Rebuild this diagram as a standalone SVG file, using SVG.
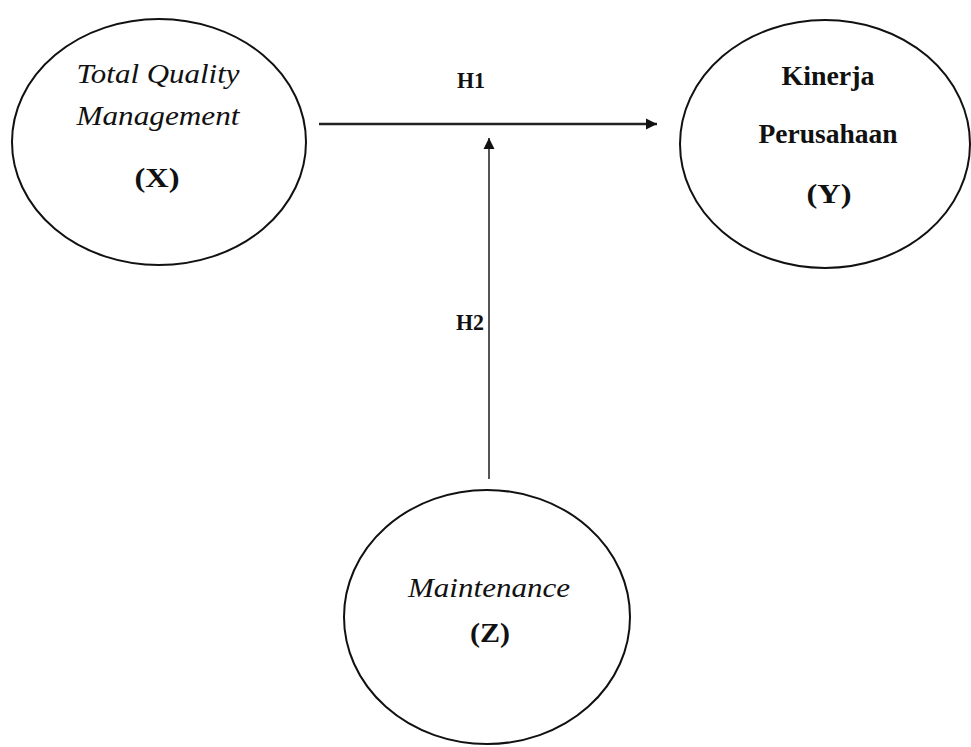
<svg xmlns="http://www.w3.org/2000/svg" width="971" height="747" viewBox="0 0 971 747">
<style>
.node ellipse{fill:#fff;stroke:#111;stroke-width:2}
text{font-family:"Liberation Serif","Times New Roman",Times,serif;fill:#111;text-anchor:middle}
.it{font-style:italic;font-size:28px}
.bd{font-weight:bold;font-size:27px}
.lbl{font-weight:bold;font-size:23px}
.conn line{stroke:#222;stroke-width:2.5}
</style>
<defs>
<marker id="ah" markerWidth="12" markerHeight="12" refX="11" refY="6" orient="auto" markerUnits="userSpaceOnUse">
<path d="M0,0.5 L11,6 L0,11.5 Z" fill="#111"/>
</marker>
</defs>
<rect width="971" height="747" fill="#fff"/>
<g id="nodeX" class="node">
<ellipse cx="159" cy="142" rx="147" ry="123"/>
<text class="it" x="158" y="83" textLength="163" lengthAdjust="spacingAndGlyphs">Total Quality</text>
<text class="it" x="158" y="125" textLength="163" lengthAdjust="spacingAndGlyphs">Management</text>
<text class="bd" x="157" y="187" textLength="45" lengthAdjust="spacingAndGlyphs">(X)</text>
</g>
<g id="nodeY" class="node">
<ellipse cx="825" cy="144" rx="145" ry="124"/>
<text class="bd" x="828" y="85" textLength="93" lengthAdjust="spacingAndGlyphs">Kinerja</text>
<text class="bd" x="828" y="143" textLength="139" lengthAdjust="spacingAndGlyphs">Perusahaan</text>
<text class="bd" x="829" y="203" textLength="45" lengthAdjust="spacingAndGlyphs">(Y)</text>
</g>
<g id="nodeZ" class="node">
<ellipse cx="487" cy="617" rx="143" ry="127"/>
<text class="it" x="489" y="597" textLength="162" lengthAdjust="spacingAndGlyphs">Maintenance</text>
<text class="bd" x="490" y="642" textLength="40" lengthAdjust="spacingAndGlyphs">(Z)</text>
</g>
<g id="connectors" class="conn">
<line x1="319" y1="124" x2="657" y2="124" marker-end="url(#ah)"/>
<line x1="489" y1="479" x2="489" y2="138" marker-end="url(#ah)" style="stroke:#555;stroke-width:2"/>
<text class="lbl" x="471" y="88" textLength="28" lengthAdjust="spacingAndGlyphs">H1</text>
<text class="lbl" x="470" y="330" textLength="28" lengthAdjust="spacingAndGlyphs">H2</text>
</g>
</svg>
